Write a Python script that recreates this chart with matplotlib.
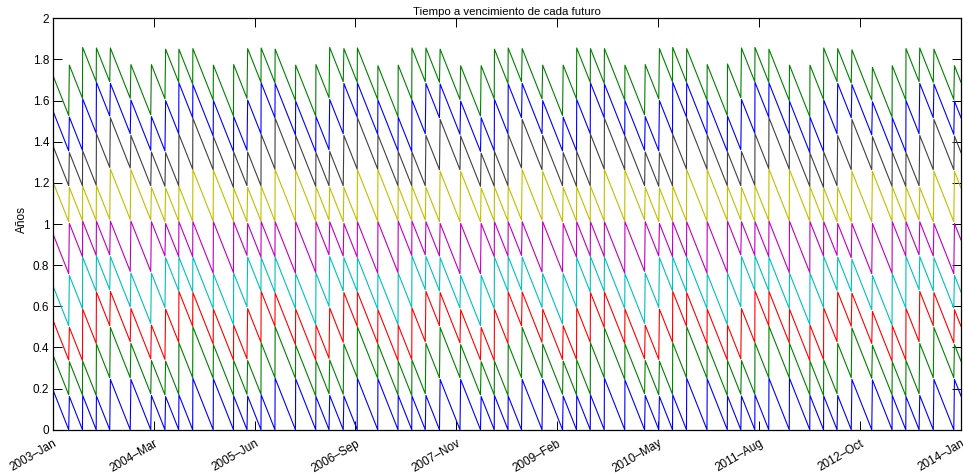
import numpy as np
import matplotlib
matplotlib.use("Agg")
import matplotlib.pyplot as plt
import matplotlib.dates as mdates

# Last trading day of each Mar/May/Jul/Sep/Dec futures contract
expiry_dates = [
    "2003-03-14", "2003-05-14", "2003-07-14", "2003-09-12", "2003-12-12",
    "2004-03-12", "2004-05-14", "2004-07-14", "2004-09-14", "2004-12-14",
    "2005-03-14", "2005-05-13", "2005-07-14", "2005-09-14", "2005-12-14",
    "2006-03-14", "2006-05-12", "2006-07-14", "2006-09-14", "2006-12-14",
    "2007-03-14", "2007-05-14", "2007-07-13", "2007-09-14", "2007-12-14",
    "2008-03-14", "2008-05-14", "2008-07-14", "2008-09-12", "2008-12-12",
    "2009-03-13", "2009-05-14", "2009-07-14", "2009-09-14", "2009-12-14",
    "2010-03-12", "2010-05-14", "2010-07-14", "2010-09-14", "2010-12-14",
    "2011-03-14", "2011-05-13", "2011-07-14", "2011-09-14", "2011-12-14",
    "2012-03-14", "2012-05-14", "2012-07-13", "2012-09-14", "2012-12-14",
    "2013-03-14", "2013-05-14", "2013-07-12", "2013-09-13", "2013-12-13",
    "2014-03-14", "2014-05-14", "2014-07-14", "2014-09-12", "2014-12-12",
    "2015-03-13", "2015-05-14", "2015-07-14", "2015-09-14", "2015-12-14",
    "2016-03-14", "2016-05-13", "2016-07-14", "2016-09-14", "2016-12-14",
]

# Sample period (trading days)
first_day = "2003-01-02"
last_day = "2014-01-14"

# Number of nearby contracts drawn, day-count basis (ACT/360)
n_contracts = 9
days_per_year = 360

tick_labels = ["2003–Jan", "2004–Mar", "2005–Jun", "2006–Sep", "2007–Nov",
               "2009–Feb", "2010–May", "2011–Aug", "2012–Oct", "2014–Jan"]
y_ticks = [0, 0.2, 0.4, 0.6, 0.8, 1, 1.2, 1.4, 1.6, 1.8, 2]
y_tick_labels = ["0", "0.2", "0.4", "0.6", "0.8", "1", "1.2", "1.4", "1.6", "1.8", "2"]

# MATLAB-style colour order
line_colors = [(0, 0, 1), (0, 0.5, 0), (1, 0, 0), (0, 0.75, 0.75),
               (0.75, 0, 0.75), (0.75, 0.75, 0), (0.25, 0.25, 0.25)]

plt.rcParams["font.family"] = ["Liberation Sans", "DejaVu Sans"]

days = np.arange(np.datetime64(first_day), np.datetime64(last_day) + 1)
days = days[np.is_busday(days)]
expiries = np.array(expiry_dates, dtype="datetime64[D]")
front = np.searchsorted(expiries, days, side="left")

fig = plt.figure(figsize=(9.63, 4.73), dpi=100)
ax = fig.add_axes([52.7 / 963, 1 - 429.7 / 473, (961 - 52.7) / 963, (429.7 - 18.3) / 473])

for k in range(n_contracts):
    ttm = (expiries[front + k] - days).astype(float) / days_per_year
    ax.plot(days, ttm, color=line_colors[k % len(line_colors)], linewidth=0.8)

x0 = mdates.date2num(days[0])
x1 = mdates.date2num(days[-1])
ax.set_xlim(x0, x1)
ax.set_ylim(0, 2)
ax.set_xticks(np.linspace(x0, x1, len(tick_labels)))
ax.set_xticklabels(tick_labels, rotation=30, ha="right", va="top",
                   rotation_mode="anchor", fontsize=8.5)
ax.set_yticks(y_ticks)
ax.set_yticklabels(y_tick_labels, fontsize=8.5)

ax.tick_params(direction="in", length=6.5, width=0.7, top=True, right=True,
               colors="black")
ax.tick_params(axis="x", pad=5.5)
ax.tick_params(axis="y", pad=2.5)
for sp in ax.spines.values():
    sp.set_linewidth(0.9)

ax.set_ylabel("Años", fontsize=8.5)
ax.yaxis.set_label_coords(-0.027, 0.512)
ax.set_title("Tiempo a vencimiento de cada futuro", fontsize=8.2, pad=2.5)

fig.savefig("out.png", dpi=100)
